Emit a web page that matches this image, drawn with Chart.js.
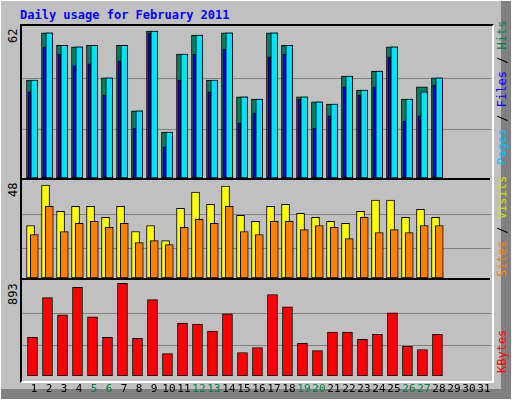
<!DOCTYPE html>
<html>
<head>
<meta charset="utf-8">
<script src="https://cdn.jsdelivr.net/npm/chart.js@4"></script>
<style>
  body { margin: 0; background: #fff; }
  #page { position: absolute; left: 0; top: 0; width: 510px; height: 398px; background: #c0c0c0;
          border-top: 1px solid #fff; border-left: 1px solid #fff; box-shadow: inset -10px -10px 0 #808080; font-family: "DejaVu Sans Mono", monospace; }
  #title { position: absolute; left: 19px; top: 7px; font-size: 12px; font-weight: bold; color: #0000ff; }
  .frame { position: absolute; left: 19px; width: 470px; border-top: 2px solid #000; border-left: 2px solid #000; }
  #frame { top: 23px; height: 355px; border-right: 2px solid #fff; border-bottom: 2px solid #fff; }
  .sep { position: absolute; left: 21px; width: 468px; height: 2px; background: #000; }
  .box { position: absolute; left: 21px; width: 469px; }
  .rot { position: absolute; transform: rotate(-90deg); transform-origin: left top; font-size: 12px; white-space: nowrap; }
</style>
</head>
<body>
<div id="page">
  <div id="title">Daily usage for February 2011</div>
  <div id="frame" class="frame"></div>
  <div class="sep" style="top:177px"></div>
  <div class="sep" style="top:277px"></div>
  <div class="box" style="top:25px;height:152px"><canvas id="top"></canvas></div>
  <div class="box" style="top:179px;height:98px"><canvas id="mid"></canvas></div>
  <div class="box" style="top:279px;height:121px"><canvas id="bot"></canvas></div>
  <div class="rot" style="left:5px;top:42px">62</div>
  <div class="rot" style="left:5px;top:196px">48</div>
  <div class="rot" style="left:5px;top:304px">893</div>
  <div class="rot" style="left:494px;top:164px"><span style="color:#00c0ff">Pages</span> / <span style="color:#0000ff">Files</span> / <span style="color:#008040">Hits</span></div>
  <div class="rot" style="left:494px;top:276px"><span style="color:#ff8000">Sites</span> / <span style="color:#e0e000">Visits</span></div>
  <div class="rot" style="left:494px;top:372px;color:#ff0000">KBytes</div>
</div>
<script>
const days = [1,2,3,4,5,6,7,8,9,10,11,12,13,14,15,16,17,18,19,20,21,22,23,24,25,26,27,28,29,30,31];
const weekendDays = [5,6,12,13,19,20,26,27];
const hits  = [41.3,61.2,56,55.3,56,42.2,56,28.3,62,19.4,52.3,60.3,41.3,61.2,34.2,33.3,61.2,56,34.2,32.1,31.2,43,37.1,45.1,55.3,33.3,38.4,42.2];
const files = [41.3,61.2,56,55.3,56,42.2,56,28.3,62,19.4,52.3,60.3,41.3,61.2,34.2,33.3,61.2,56,34.2,32.1,31.2,43,37.1,45.1,55.3,33.3,36.3,42.2];
const pages = [36.3,55.3,52.3,47.3,48.1,35,49.4,21.1,61.2,13.1,41.3,52.3,36.3,54.4,23.2,27.4,51.1,52.3,33.3,21.1,26.2,38.4,35,38.4,51.1,24,26.2,39.2];
const visits = [27.1,48,34.4,37,37,31.3,37,24,27.1,19.3,36,44.3,38.1,47.5,32.3,29.2,37,38.1,33.4,31.3,29.2,28.2,34.4,40.2,40.2,31.3,35.5,31.3];
const sites  = [22.4,37,24,28.2,29.2,26.1,28.2,18.3,19.3,17.2,26.1,30.3,28.2,37,24,22.4,29.2,29.2,25,27.1,26.1,20.3,31.3,23.5,25,23.5,27.1,27.1];
const kbytes = [373,755,589,854,569,373,893,363,736,216,510,500,432,599,226,275,785,667,314,245,422,422,353,402,608,285,255,402];
const topGrid = [42.2,20.7], midGrid = [32.9,15.7], botGrid = [605,297];

const pts = (arr, off) => arr.map((v, i) => ({x: days[i] + off, y: v}));
const bar = (label, arr, off, color, w, order) => ({
  label, data: pts(arr, off), backgroundColor: color, borderColor: '#000', borderWidth: 1,
  barThickness: w, grouped: false, order, borderSkipped: false
});

function gridPlugin(lines) {
  return {
    id: 'grid',
    beforeDatasetsDraw(chart) {
      const {ctx, chartArea, scales} = chart;
      ctx.save();
      ctx.strokeStyle = '#808080';
      ctx.lineWidth = 1;
      lines.forEach(v => {
        const y = Math.round(scales.y.getPixelForValue(v)) + 0.5;
        ctx.beginPath(); ctx.moveTo(chartArea.left, y); ctx.lineTo(chartArea.right, y); ctx.stroke();
      });
      ctx.restore();
    }
  };
}

const dayLabels = {
  id: 'dayLabels',
  afterDraw(chart) {
    const {ctx, chartArea, scales} = chart;
    ctx.save();
    ctx.font = '11px "DejaVu Sans Mono"';
    ctx.textAlign = 'center';
    ctx.textBaseline = 'middle';
    days.forEach(d => {
      ctx.fillStyle = weekendDays.includes(d) ? '#008040' : '#000';
      ctx.fillText(String(d), scales.x.getPixelForValue(d), chartArea.bottom + 13);
    });
    ctx.restore();
  }
};

function makeChart(id, datasets, ymax, grid, extra, bottomPad) {
  new Chart(document.getElementById(id), {
    type: 'bar',
    data: { datasets },
    plugins: [gridPlugin(grid)].concat(extra),
    options: {
      responsive: true, maintainAspectRatio: false, animation: false,
      layout: { padding: { left: 0, right: 0, top: 0, bottom: bottomPad } },
      plugins: { legend: { display: false }, tooltip: { enabled: false } },
      scales: {
        x: { type: 'linear', min: 0.2, max: 31.47, offset: false, display: false },
        y: { min: 0, max: ymax, display: false }
      }
    }
  });
}

makeChart('top', [
  bar('Pages', pages, -0.31, '#0000ff', 3, 1),
  bar('Files', files, 0.02, '#00e0ff', 7, 2),
  bar('Hits', hits, -0.133, '#008060', 11, 3)
], 64.1, topGrid, [], 0);

makeChart('mid', [
  bar('Sites', sites, 0.02, '#ff8000', 8, 1),
  bar('Visits', visits, -0.23, '#ffff00', 8, 2)
], 50.6, midGrid, [], 0);

makeChart('bot', [
  bar('KBytes', kbytes, -0.1, '#ff0000', 10, 1)
], 925, botGrid, [dayLabels], 25);
</script>
</body>
</html>
